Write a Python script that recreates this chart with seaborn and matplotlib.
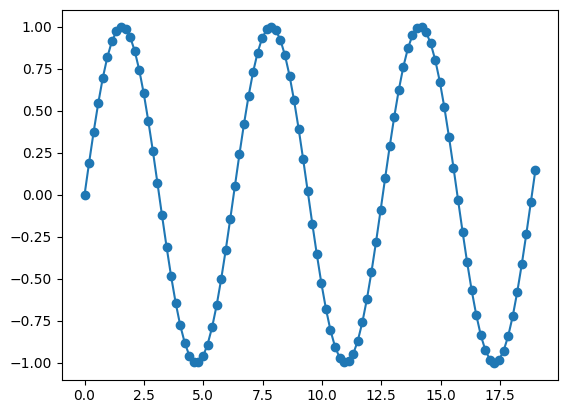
import matplotlib
matplotlib.use("Agg")
import matplotlib.pyplot as plt
import seaborn as sns
import pandas as pd

# x positions, 100 evenly spaced points from 0 to 19
x_values = [
    0.0000, 0.1919, 0.3838, 0.5758, 0.7677, 0.9596, 1.1515, 1.3434, 1.5354, 1.7273,
    1.9192, 2.1111, 2.3030, 2.4949, 2.6869, 2.8788, 3.0707, 3.2626, 3.4545, 3.6465,
    3.8384, 4.0303, 4.2222, 4.4141, 4.6061, 4.7980, 4.9899, 5.1818, 5.3737, 5.5657,
    5.7576, 5.9495, 6.1414, 6.3333, 6.5253, 6.7172, 6.9091, 7.1010, 7.2929, 7.4848,
    7.6768, 7.8687, 8.0606, 8.2525, 8.4444, 8.6364, 8.8283, 9.0202, 9.2121, 9.4040,
    9.5960, 9.7879, 9.9798, 10.1717, 10.3636, 10.5556, 10.7475, 10.9394, 11.1313, 11.3232,
    11.5152, 11.7071, 11.8990, 12.0909, 12.2828, 12.4747, 12.6667, 12.8586, 13.0505, 13.2424,
    13.4343, 13.6263, 13.8182, 14.0101, 14.2020, 14.3939, 14.5859, 14.7778, 14.9697, 15.1616,
    15.3535, 15.5455, 15.7374, 15.9293, 16.1212, 16.3131, 16.5051, 16.6970, 16.8889, 17.0808,
    17.2727, 17.4646, 17.6566, 17.8485, 18.0404, 18.2323, 18.4242, 18.6162, 18.8081, 19.0000,
]

y_values = [
    0.000, 0.191, 0.375, 0.544, 0.695, 0.819, 0.913, 0.974, 0.999, 0.988,
    0.940, 0.858, 0.744, 0.603, 0.439, 0.261, 0.071, -0.121, -0.308, -0.484,
    -0.642, -0.776, -0.881, -0.957, -0.994, -0.996, -0.962, -0.892, -0.789, -0.658,
    -0.502, -0.328, -0.142, 0.050, 0.240, 0.421, 0.586, 0.730, 0.847, 0.933,
    0.984, 1.000, 0.979, 0.922, 0.831, 0.710, 0.562, 0.394, 0.211, 0.021,
    -0.171, -0.355, -0.527, -0.679, -0.807, -0.905, -0.969, -0.998, -0.991, -0.947,
    -0.868, -0.758, -0.620, -0.458, -0.280, -0.092, 0.100, 0.288, 0.465, 0.625,
    0.763, 0.872, 0.950, 0.992, 0.998, 0.967, 0.901, 0.802, 0.674, 0.520,
    0.347, 0.162, -0.029, -0.220, -0.402, -0.569, -0.715, -0.836, -0.925, -0.981,
    -1.000, -0.983, -0.929, -0.842, -0.724, -0.579, -0.413, -0.232, -0.042, 0.150,
]

df = pd.DataFrame({"x": x_values, "y": y_values})

fig = plt.figure(figsize=(5.68, 4.13), dpi=100)
ax = fig.add_axes([62 / 568, 1 - 379.6 / 413, 496 / 568, 369.6 / 413])

sns.lineplot(data=df, x="x", y="y", ax=ax, color="#1f77b4",
             marker="o", markersize=6, markeredgewidth=1,
             markeredgecolor="#1f77b4", linewidth=1.5)

ax.set_xlabel("")
ax.set_ylabel("")

fig.savefig("out.png", dpi=100)
